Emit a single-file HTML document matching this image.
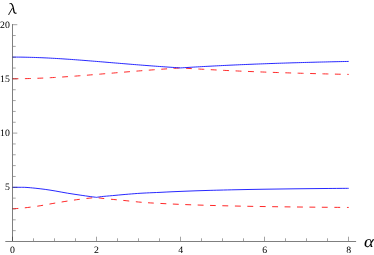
<!DOCTYPE html>
<html><head><meta charset="utf-8"><style>
html,body{margin:0;padding:0;background:#fff;}
svg{display:block;font-family:"Liberation Serif",serif;will-change:transform;text-rendering:geometricPrecision;}
</style></head><body>
<svg width="374" height="255" viewBox="0 0 374 255">
<g fill="none" stroke="#ff0000" stroke-width="0.85" stroke-dasharray="5.9 6.52">
<path d="M12.50 78.75L14.60 78.75L16.70 78.74L18.80 78.72L20.91 78.70L23.01 78.67L25.11 78.63L27.21 78.59L29.31 78.54L31.41 78.48L33.51 78.42L35.61 78.35L37.72 78.27L39.82 78.19L41.92 78.11L44.02 78.01L46.12 77.92L48.22 77.81L50.32 77.71L52.42 77.59L54.52 77.48L56.63 77.35L58.73 77.23L60.83 77.10L62.93 76.96L65.03 76.82L67.13 76.68L69.23 76.54L71.33 76.39L73.44 76.23L75.54 76.08L77.64 75.92L79.74 75.76L81.84 75.60L83.94 75.44L86.04 75.27L88.14 75.10L90.25 74.93L92.35 74.76L94.45 74.59L96.55 74.42L98.65 74.24L100.75 74.07L102.85 73.89L104.95 73.72L107.06 73.54L109.16 73.37L111.26 73.19L113.36 73.02L115.46 72.84L117.56 72.67L119.66 72.49L121.77 72.32L123.87 72.14L125.97 71.97L128.07 71.80L130.17 71.63L132.27 71.46L134.37 71.29L136.47 71.12L138.57 70.95L140.68 70.79L142.78 70.62L144.88 70.46L146.98 70.30L149.08 70.14L151.18 69.98L153.28 69.82L155.38 69.66L157.49 69.51L159.59 69.36L161.69 69.21L163.79 69.06L165.89 68.91L167.99 68.76L170.09 68.62L172.19 68.48L174.30 68.33L176.40 68.19L178.50 68.06L180.60 67.92L182.70 68.05L184.80 68.19L186.90 68.32L189.00 68.45L191.11 68.58L193.21 68.70L195.31 68.83L197.41 68.95L199.51 69.07L201.61 69.19L203.71 69.31L205.81 69.42L207.92 69.54L210.02 69.65L212.12 69.76L214.22 69.87L216.32 69.98L218.42 70.09L220.52 70.19L222.62 70.30L224.73 70.40L226.83 70.50L228.93 70.60L231.03 70.70L233.13 70.79L235.23 70.89L237.33 70.98L239.44 71.08L241.54 71.17L243.64 71.26L245.74 71.35L247.84 71.43L249.94 71.52L252.04 71.60L254.14 71.69L256.25 71.77L258.35 71.85L260.45 71.93L262.55 72.01L264.65 72.09L266.75 72.16L268.85 72.24L270.95 72.31L273.06 72.38L275.16 72.46L277.26 72.53L279.36 72.60L281.46 72.67L283.56 72.73L285.66 72.80L287.76 72.87L289.86 72.93L291.97 73.00L294.07 73.06L296.17 73.12L298.27 73.18L300.37 73.24L302.47 73.30L304.57 73.36L306.68 73.42L308.78 73.48L310.88 73.53L312.98 73.59L315.08 73.64L317.18 73.70L319.28 73.75L321.38 73.80L323.49 73.85L325.59 73.90L327.69 73.95L329.79 74.00L331.89 74.05L333.99 74.10L336.09 74.15L338.19 74.19L340.29 74.24L342.40 74.29L344.50 74.33L346.60 74.37L348.70 74.42"/>
<path d="M12.50 208.70C13.42 208.66 15.48 208.65 18.00 208.45C20.52 208.25 23.90 207.95 27.60 207.50C31.30 207.05 36.12 206.40 40.20 205.75C44.28 205.10 48.12 204.29 52.10 203.60C56.08 202.91 60.00 202.25 64.10 201.60C68.20 200.95 72.53 200.27 76.70 199.70C80.87 199.13 85.80 198.57 89.10 198.20C92.40 197.82 95.27 197.57 96.50 197.45C97.42 197.59 99.12 197.96 102.00 198.30C104.88 198.64 109.78 199.10 113.80 199.50C117.82 199.90 121.98 200.28 126.10 200.70C130.22 201.12 134.85 201.66 138.50 202.00C142.15 202.34 144.42 202.51 148.00 202.75C151.58 202.99 156.00 203.20 160.00 203.42C164.00 203.63 168.00 203.83 172.00 204.02C176.00 204.20 180.00 204.37 184.00 204.53C188.00 204.69 192.00 204.83 196.00 204.97C200.00 205.11 204.00 205.23 208.00 205.35C212.00 205.47 215.50 205.56 220.00 205.67C224.50 205.79 230.00 205.92 235.00 206.02C240.00 206.13 245.00 206.23 250.00 206.32C255.00 206.41 260.00 206.49 265.00 206.57C270.00 206.64 275.00 206.72 280.00 206.78C285.00 206.85 290.00 206.91 295.00 206.97C300.00 207.02 305.00 207.08 310.00 207.13C315.00 207.18 320.00 207.22 325.00 207.27C330.00 207.31 336.05 207.36 340.00 207.39C343.95 207.42 347.25 207.44 348.70 207.45"/>
</g>
<g fill="none" stroke="#0000ff" stroke-width="0.85">
<path d="M12.50 57.09L14.60 57.09L16.70 57.10L18.80 57.12L20.91 57.14L23.01 57.17L25.11 57.21L27.21 57.25L29.31 57.30L31.41 57.36L33.51 57.42L35.61 57.49L37.72 57.57L39.82 57.65L41.92 57.73L44.02 57.83L46.12 57.92L48.22 58.03L50.32 58.13L52.42 58.25L54.52 58.36L56.63 58.49L58.73 58.61L60.83 58.74L62.93 58.88L65.03 59.02L67.13 59.16L69.23 59.30L71.33 59.45L73.44 59.61L75.54 59.76L77.64 59.92L79.74 60.08L81.84 60.24L83.94 60.40L86.04 60.57L88.14 60.74L90.25 60.91L92.35 61.08L94.45 61.25L96.55 61.42L98.65 61.60L100.75 61.77L102.85 61.95L104.95 62.12L107.06 62.30L109.16 62.47L111.26 62.65L113.36 62.82L115.46 63.00L117.56 63.17L119.66 63.35L121.77 63.52L123.87 63.70L125.97 63.87L128.07 64.04L130.17 64.21L132.27 64.38L134.37 64.55L136.47 64.72L138.57 64.89L140.68 65.05L142.78 65.22L144.88 65.38L146.98 65.54L149.08 65.70L151.18 65.86L153.28 66.02L155.38 66.18L157.49 66.33L159.59 66.48L161.69 66.63L163.79 66.78L165.89 66.93L167.99 67.08L170.09 67.22L172.19 67.36L174.30 67.51L176.40 67.65L178.50 67.78L180.60 67.92L182.70 67.79L184.80 67.65L186.90 67.52L189.00 67.39L191.11 67.26L193.21 67.14L195.31 67.01L197.41 66.89L199.51 66.77L201.61 66.65L203.71 66.53L205.81 66.42L207.92 66.30L210.02 66.19L212.12 66.08L214.22 65.97L216.32 65.86L218.42 65.75L220.52 65.65L222.62 65.54L224.73 65.44L226.83 65.34L228.93 65.24L231.03 65.14L233.13 65.05L235.23 64.95L237.33 64.86L239.44 64.76L241.54 64.67L243.64 64.58L245.74 64.49L247.84 64.41L249.94 64.32L252.04 64.24L254.14 64.15L256.25 64.07L258.35 63.99L260.45 63.91L262.55 63.83L264.65 63.75L266.75 63.68L268.85 63.60L270.95 63.53L273.06 63.46L275.16 63.38L277.26 63.31L279.36 63.24L281.46 63.17L283.56 63.11L285.66 63.04L287.76 62.97L289.86 62.91L291.97 62.84L294.07 62.78L296.17 62.72L298.27 62.66L300.37 62.60L302.47 62.54L304.57 62.48L306.68 62.42L308.78 62.36L310.88 62.31L312.98 62.25L315.08 62.20L317.18 62.14L319.28 62.09L321.38 62.04L323.49 61.99L325.59 61.94L327.69 61.89L329.79 61.84L331.89 61.79L333.99 61.74L336.09 61.69L338.19 61.65L340.29 61.60L342.40 61.55L344.50 61.51L346.60 61.47L348.70 61.42"/>
<path d="M12.50 187.30C13.75 187.30 17.75 187.28 20.00 187.30C22.25 187.32 23.48 187.25 26.00 187.40C28.52 187.55 31.90 187.87 35.10 188.20C38.30 188.53 41.87 188.94 45.20 189.40C48.53 189.86 51.37 190.32 55.10 190.95C58.83 191.58 63.43 192.51 67.60 193.20C71.77 193.89 76.33 194.54 80.10 195.10C83.87 195.66 87.47 196.18 90.20 196.55C92.93 196.93 95.45 197.22 96.50 197.35C97.33 197.22 98.82 196.89 101.50 196.60C104.18 196.31 108.67 195.96 112.60 195.60C116.53 195.24 120.92 194.81 125.10 194.45C129.28 194.09 134.13 193.70 137.70 193.45C141.27 193.20 142.78 193.13 146.50 192.95C150.22 192.77 155.75 192.56 160.00 192.36C164.25 192.17 168.00 191.95 172.00 191.76C176.00 191.58 180.00 191.41 184.00 191.25C188.00 191.09 192.00 190.95 196.00 190.81C200.00 190.67 204.00 190.55 208.00 190.43C212.00 190.31 215.50 190.22 220.00 190.11C224.50 189.99 230.00 189.86 235.00 189.76C240.00 189.65 245.00 189.55 250.00 189.46C255.00 189.37 260.00 189.29 265.00 189.21C270.00 189.14 275.00 189.06 280.00 189.00C285.00 188.93 290.00 188.87 295.00 188.81C300.00 188.76 305.00 188.70 310.00 188.65C315.00 188.60 320.00 188.56 325.00 188.51C330.00 188.47 336.05 188.42 340.00 188.39C343.95 188.36 347.25 188.34 348.70 188.33"/>
</g>
<g fill="none" stroke="#000">
<path stroke-width="1" stroke-opacity="0.5" d="M5.3 241.5H356.1M12.5 241V24"/>
<path stroke-width="1" stroke-opacity="0.36" d="M12.50 241.00V236.70M33.50 241.00V238.30M54.50 241.00V238.30M75.50 241.00V238.30M96.50 241.00V236.70M117.50 241.00V238.30M138.50 241.00V238.30M159.50 241.00V238.30M180.50 241.00V236.70M201.50 241.00V238.30M222.50 241.00V238.30M243.50 241.00V238.30M264.50 241.00V236.70M285.50 241.00V238.30M306.50 241.00V238.30M327.50 241.00V238.30M348.50 241.00V236.70M13.00 230.66H15.70M13.00 219.82H15.70M13.00 208.98H15.70M13.00 198.14H15.70M13.00 187.30H17.30M13.00 176.46H15.70M13.00 165.62H15.70M13.00 154.78H15.70M13.00 143.94H15.70M13.00 133.10H17.30M13.00 122.26H15.70M13.00 111.42H15.70M13.00 100.58H15.70M13.00 89.74H15.70M13.00 78.90H17.30M13.00 68.06H15.70M13.00 57.22H15.70M13.00 46.38H15.70M13.00 35.54H15.70M13.00 24.70H17.30"/>
</g>
<g font-size="9.8px" fill="#000"><text x="12.50" y="253.3" text-anchor="middle">0</text><text x="96.55" y="253.3" text-anchor="middle">2</text><text x="180.60" y="253.3" text-anchor="middle">4</text><text x="264.65" y="253.3" text-anchor="middle">6</text><text x="348.70" y="253.3" text-anchor="middle">8</text><text x="9.8" y="190.40" text-anchor="end">5</text><text x="9.8" y="136.20" text-anchor="end">10</text><text x="9.8" y="82.00" text-anchor="end">15</text><text x="9.8" y="27.80" text-anchor="end">20</text></g>
<g id="lam"><title>λ</title><path fill="#000" d="M9.2 3.75Q10.3 2.7 11.7 3.15C13.1 4.0 13.75 6.5 14.15 9.0L14.65 11.7Q14.9 13.1 16.7 12.7L16.85 13.15Q14.5 14.5 13.5 12.6L12.8 9.0C12.4 6.5 11.9 4.7 10.8 4.0Q10.0 3.65 9.35 4.2Z"/><path fill="none" stroke="#000" stroke-width="0.9" d="M12.45 8.1L8.75 14.35"/><path fill="#000" d="M8.2 14.0L9.6 14.0L9.3 14.6L8.1 14.6Z"/></g>
<text transform="translate(363.9 246.9) scale(1.12 1)" font-size="16.8px" font-style="italic">α</text>
</svg>
</body></html>
